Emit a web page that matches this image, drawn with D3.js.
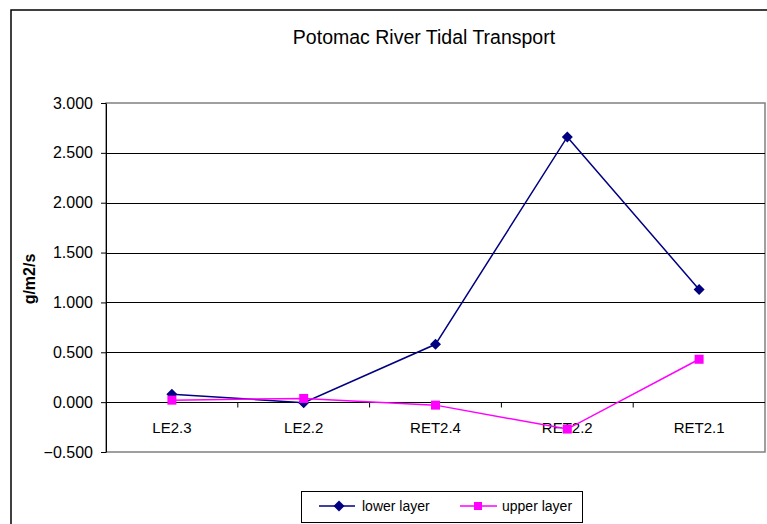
<!DOCTYPE html>
<html><head><meta charset="utf-8">
<script src="https://cdn.jsdelivr.net/npm/d3@7"></script>
<style>body{margin:0;background:#fff;}svg{display:block;font-family:Arial,"Liberation Sans",sans-serif;}</style>
</head><body>
<script>
const categories = ["LE2.3","LE2.2","RET2.4","RET2.2","RET2.1"];
const lowerLayer = [0.08, -0.005, 0.58, 2.66, 1.13];
const upperLayer = [0.02, 0.037, -0.03, -0.27, 0.43];
const yTicks = [-0.5, 0, 0.5, 1.0, 1.5, 2.0, 2.5, 3.0];

const W = 767, H = 524;
const svg = d3.select("body").append("svg").attr("width", W).attr("height", H);

// outer chart border
svg.append("rect").attr("x", 11).attr("y", 10).attr("width", 800).attr("height", 600)
  .attr("fill", "none").attr("stroke", "#000").attr("stroke-width", 1.5);

const L = 106, R = 765, T = 103, B = 452;
const x = d3.scaleBand().domain(categories).range([L, R]);
const y = d3.scaleLinear().domain([-0.5, 3.0]).range([B, T]);

// plot area border
svg.append("rect").attr("x", L).attr("y", T).attr("width", R - L).attr("height", B - T)
  .attr("fill", "none").attr("stroke", "#808080").attr("stroke-width", 1.5);

// gridlines
svg.append("g").selectAll("line").data(yTicks.filter(d => d > -0.5 && d < 3.0)).join("line")
  .attr("x1", L).attr("x2", R).attr("y1", d => Math.round(y(d)) + 0.5).attr("y2", d => Math.round(y(d)) + 0.5)
  .attr("stroke", "#000").attr("stroke-width", 1);

// y axis
const yAxis = d3.axisLeft(y).tickValues(yTicks).tickFormat(d3.format(".3f")).tickSizeInner(5).tickSizeOuter(0).tickPadding(8);
const gy = svg.append("g").attr("transform", `translate(${L},0)`).call(yAxis);
gy.select(".domain").attr("stroke", "#000");
gy.selectAll("text").attr("font-size", 16).attr("fill", "#000").attr("font-family", "Arial, 'Liberation Sans', sans-serif");

// x axis at y=0
const xAxisG = svg.append("g").attr("transform", `translate(0,${Math.round(y(0)) + 0.5})`);
xAxisG.append("line").attr("x1", L).attr("x2", R).attr("stroke", "#000");
const bounds = categories.slice(1).map(c => x(c));
xAxisG.selectAll("line.tk").data(bounds).join("line").attr("class", "tk")
  .attr("x1", d => d).attr("x2", d => d).attr("y1", 0).attr("y2", 5).attr("stroke", "#000");
xAxisG.selectAll("text").data(categories).join("text")
  .attr("x", d => x(d) + x.bandwidth() / 2).attr("y", 30)
  .attr("text-anchor", "middle").attr("font-size", 15).attr("fill", "#000").text(d => d);

// lines
const cx = (d, i) => x(categories[i]) + x.bandwidth() / 2;
const line = d3.line().x((d, i) => cx(d, i)).y(d => y(d));
svg.append("path").datum(lowerLayer).attr("d", line).attr("fill", "none").attr("stroke", "#000080").attr("stroke-width", 1.5);
svg.append("path").datum(upperLayer).attr("d", line).attr("fill", "none").attr("stroke", "#FF00FF").attr("stroke-width", 1.5);

// markers
const diamond = "M0,-5.5L5.5,0L0,5.5L-5.5,0Z";
svg.append("g").selectAll("path").data(lowerLayer).join("path")
  .attr("d", diamond)
  .attr("transform", (d, i) => `translate(${cx(d, i)},${y(d)})`).attr("fill", "#000080");
svg.append("g").selectAll("rect").data(upperLayer).join("rect")
  .attr("x", (d, i) => cx(d, i) - 4.5).attr("y", d => y(d) - 4.5).attr("width", 9).attr("height", 9).attr("fill", "#FF00FF");

// title
svg.append("text").attr("x", 424).attr("y", 44).attr("text-anchor", "middle").attr("font-size", 19.5).attr("fill", "#000")
  .text("Potomac River Tidal Transport");

// y label
svg.append("text").attr("transform", `translate(35,279) rotate(-90)`).attr("text-anchor", "middle")
  .attr("font-size", 16).attr("font-weight", "bold").attr("fill", "#000").text("g/m2/s");

// legend
const lg = svg.append("g");
lg.append("rect").attr("x", 301.5).attr("y", 491.5).attr("width", 281).attr("height", 31)
  .attr("fill", "#fff").attr("stroke", "#000").attr("stroke-width", 1);
lg.append("line").attr("x1", 319).attr("x2", 355).attr("y1", 506).attr("y2", 506).attr("stroke", "#000080").attr("stroke-width", 1.5);
lg.append("path").attr("d", diamond).attr("transform", "translate(339,506)").attr("fill", "#000080");
lg.append("text").attr("x", 362).attr("y", 511).attr("font-size", 14).attr("fill", "#000").text("lower layer");
lg.append("line").attr("x1", 460).attr("x2", 497).attr("y1", 506).attr("y2", 506).attr("stroke", "#FF00FF").attr("stroke-width", 1.5);
lg.append("rect").attr("x", 474).attr("y", 502).attr("width", 8).attr("height", 8).attr("fill", "#FF00FF");
lg.append("text").attr("x", 502).attr("y", 511).attr("font-size", 14).attr("fill", "#000").text("upper layer");
</script>
</body></html>
